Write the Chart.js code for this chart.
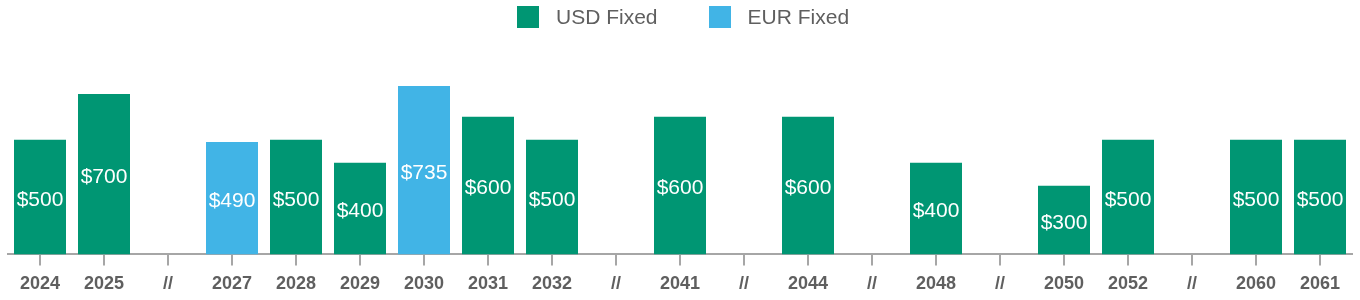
<!DOCTYPE html>
<html>
<head>
<meta charset="utf-8">
<script src="https://cdn.jsdelivr.net/npm/chart.js@4/dist/chart.umd.min.js"></script>
<style>
  html, body { margin: 0; padding: 0; background: #fff; overflow: hidden; }
  #wrap { position: relative; width: 1360px; height: 300px; overflow: hidden; }
  #legend { position: absolute; top: 6px; left: 517px; display: flex; font-family: "Liberation Sans", Arial, sans-serif; font-size: 21px; color: #5f5f5f; }
  #legend .item { display: flex; align-items: center; height: 22px; margin-right: 51px; }
  #legend .box { width: 22px; height: 22px; margin-right: 17px; }
</style>
</head>
<body>
<div id="wrap">
  <div id="legend"></div>
  <canvas id="c" width="1360" height="303"></canvas>
</div>
<script>
// Maturity years; "//" marks a gap in the timeline
const categories = ['2024', '2025', '//', '2027', '2028', '2029', '2030', '2031', '2032', '//',
  '2041', '//', '2044', '//', '2048', '//', '2050', '2052', '//', '2060', '2061'];

// Principal amounts (millions)
const usdFixed = [500, 700, null, null, 500, 400, null, 600, 500, null,
  600, null, 600, null, 400, null, 300, 500, null, 500, 500];
const eurFixed = [null, null, null, 490, null, null, 735, null, null, null,
  null, null, null, null, null, null, null, null, null, null, null];

const GREEN = 'rgb(0,150,115)';
const BLUE = 'rgb(65,180,230)';

// Writes each bar's amount in white at the bar's vertical centre
const barValueLabels = {
  id: 'barValueLabels',
  afterDatasetsDraw(chart) {
    const ctx = chart.ctx;
    ctx.save();
    ctx.fillStyle = '#ffffff';
    ctx.font = '21px "Liberation Sans", Arial, sans-serif';
    ctx.textAlign = 'center';
    ctx.textBaseline = 'middle';
    chart.data.datasets.forEach((ds, di) => {
      const meta = chart.getDatasetMeta(di);
      meta.data.forEach((bar, i) => {
        const v = ds.data[i];
        if (v === null || v === undefined) return;
        const cy = (bar.y + bar.base) / 2 + 3;
        ctx.fillText('$' + v, bar.x, cy);
      });
    });
    ctx.restore();
  }
};

// Builds the legend as HTML from the chart's own legend items
const htmlLegend = {
  id: 'htmlLegend',
  afterUpdate(chart) {
    const el = document.getElementById('legend');
    el.innerHTML = '';
    const items = chart.options.plugins.legend.labels.generateLabels(chart);
    items.forEach(it => {
      const d = document.createElement('div');
      d.className = 'item';
      const b = document.createElement('span');
      b.className = 'box';
      b.style.background = it.fillStyle;
      const t = document.createElement('span');
      t.textContent = it.text;
      d.appendChild(b);
      d.appendChild(t);
      el.appendChild(d);
    });
  }
};

new Chart(document.getElementById('c'), {
  type: 'bar',
  data: {
    labels: categories,
    datasets: [
      { label: 'USD Fixed', data: usdFixed, backgroundColor: GREEN },
      { label: 'EUR Fixed', data: eurFixed, backgroundColor: BLUE }
    ]
  },
  options: {
    responsive: false,
    animation: false,
    events: [],
    layout: { padding: { top: 71, left: 8, right: 8, bottom: 0 } },
    datasets: { bar: { categoryPercentage: 1, barPercentage: 0.8125 } },
    plugins: {
      legend: { display: false },
      tooltip: { enabled: false }
    },
    scales: {
      x: {
        stacked: true,
        grid: {
          offset: false,
          drawOnChartArea: false,
          drawTicks: true,
          tickLength: 11,
          color: '#a6a6a6',
          lineWidth: 2
        },
        border: { display: true, color: '#a6a6a6', width: 2 },
        ticks: {
          autoSkip: false,
          maxRotation: 0,
          padding: 8,
          color: '#5f5f5f',
          font: { family: '"Liberation Sans", Arial, sans-serif', size: 18, weight: 'bold' }
        }
      },
      y: {
        stacked: true,
        display: false,
        min: 0,
        max: 800
      }
    }
  },
  plugins: [barValueLabels, htmlLegend]
});
</script>
</body>
</html>
